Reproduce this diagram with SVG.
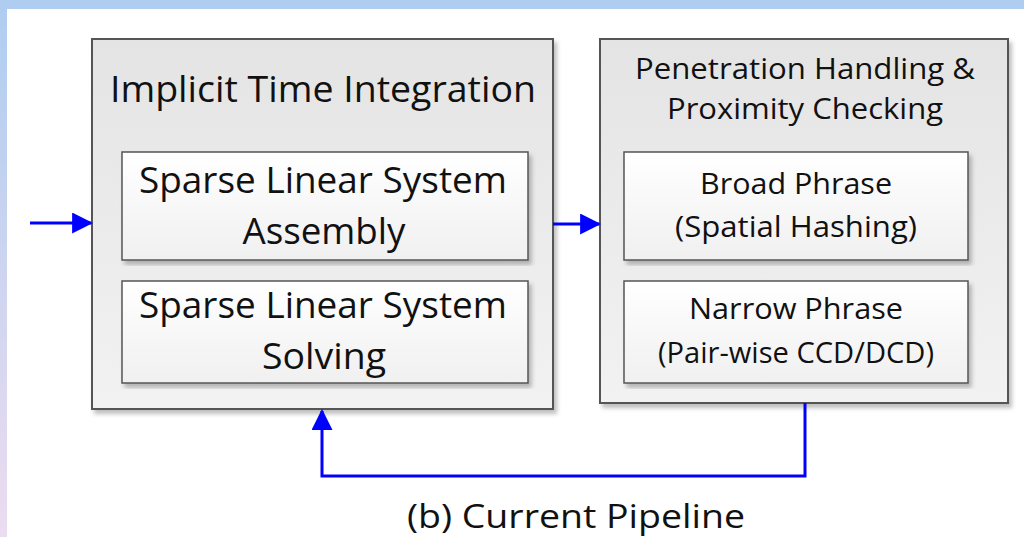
<svg xmlns="http://www.w3.org/2000/svg" width="1024" height="537" viewBox="0 0 1024 537">
<defs>
<linearGradient id="outer" x1="0" y1="0" x2="0" y2="1">
<stop offset="0" stop-color="#e4e4e4"/><stop offset="1" stop-color="#f2f2f2"/>
</linearGradient>
<linearGradient id="inner" x1="0" y1="0" x2="0" y2="1">
<stop offset="0" stop-color="#ffffff"/><stop offset="1" stop-color="#f0f0f0"/>
</linearGradient>
<linearGradient id="side" x1="0" y1="0" x2="0" y2="1">
<stop offset="0" stop-color="#aecdf0"/><stop offset="1" stop-color="#ecdcf0"/>
</linearGradient>
<filter id="sh" x="-5%" y="-5%" width="110%" height="110%">
<feDropShadow dx="3" dy="4" stdDeviation="2" flood-color="#000" flood-opacity="0.25"/>
</filter>
<marker id="ahb" viewBox="0 0 10 10" refX="9" refY="5" markerWidth="7" markerHeight="7" orient="auto">
<path d="M0,0 L10,5 L0,10 Z" fill="#0000ff"/>
</marker>
</defs>
<style>
.o{fill:url(#outer);stroke:#555;stroke-width:2;filter:url(#sh)}
.i{fill:url(#inner);stroke:#555;stroke-width:1.5;filter:url(#sh)}
text{font-family:"Open Sans","Liberation Sans",sans-serif;fill:#111;text-anchor:middle}
.t1{font-size:36px}
.t2{font-size:29px}
.c{fill:none;stroke:#0000ff;stroke-width:3}
</style>
<rect x="0" y="0" width="1024" height="537" fill="#ffffff"/>
<rect x="0" y="0" width="1024" height="9" fill="#aecdf0"/>
<rect x="0" y="0" width="7" height="537" fill="url(#side)"/>

<g id="left">
<rect class="o" x="92" y="39" width="461" height="370"/>
<text class="t1" x="323" y="102" textLength="426" lengthAdjust="spacingAndGlyphs">Implicit Time Integration</text>
</g>
<g id="assembly">
<rect class="i" x="122" y="152" width="406" height="108"/>
<text class="t1" x="323" y="193" textLength="368" lengthAdjust="spacingAndGlyphs">Sparse Linear System</text>
<text class="t1" x="324" y="244" textLength="163" lengthAdjust="spacingAndGlyphs">Assembly</text>
</g>
<g id="solving">
<rect class="i" x="122" y="281" width="406" height="102"/>
<text class="t1" x="323" y="318" textLength="368" lengthAdjust="spacingAndGlyphs">Sparse Linear System</text>
<text class="t1" x="324" y="369" textLength="124" lengthAdjust="spacingAndGlyphs">Solving</text>
</g>
<g id="right">
<rect class="o" x="600" y="39" width="408" height="364"/>
<text class="t2" x="805" y="79" textLength="340" lengthAdjust="spacingAndGlyphs">Penetration Handling &amp;</text>
<text class="t2" x="805" y="119" textLength="276" lengthAdjust="spacingAndGlyphs">Proximity Checking</text>
</g>
<g id="broad">
<rect class="i" x="624" y="152" width="344" height="108"/>
<text class="t2" x="796" y="194" textLength="192" lengthAdjust="spacingAndGlyphs">Broad Phrase</text>
<text class="t2" x="796" y="237" textLength="242" lengthAdjust="spacingAndGlyphs">(Spatial Hashing)</text>
</g>
<g id="narrow">
<rect class="i" x="624" y="281" width="344" height="102"/>
<text class="t2" x="796" y="319" textLength="214" lengthAdjust="spacingAndGlyphs">Narrow Phrase</text>
<text class="t2" x="796" y="363" textLength="276" lengthAdjust="spacingAndGlyphs">(Pair-wise CCD/DCD)</text>
</g>
<g id="connectors">
<path class="c" d="M30,223 L91,223" marker-end="url(#ahb)"/>
<path class="c" d="M553,224 L599,224" marker-end="url(#ahb)"/>
<path class="c" d="M805,403 L805,476 L322,476 L322,411" marker-end="url(#ahb)"/>
</g>
<text x="576" y="528" style="font-size:33px" textLength="338" lengthAdjust="spacingAndGlyphs">(b) Current Pipeline</text>
</svg>
